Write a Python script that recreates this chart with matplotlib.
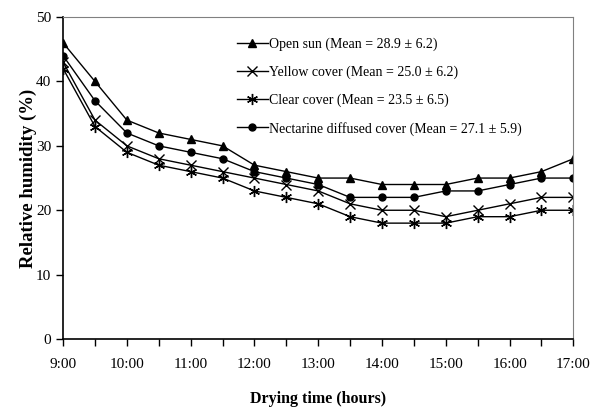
import matplotlib.pyplot as plt
import numpy as np

plt.rcParams['font.family'] = ['Liberation Serif', 'DejaVu Serif']

# half-hour readings from 9:00 to 17:00
times = np.arange(9, 17.01, 0.5)
hour_labels = ['9:00', '10:00', '11:00', '12:00', '13:00', '14:00', '15:00', '16:00', '17:00']

open_sun = [46, 40, 34, 32, 31, 30, 27, 26, 25, 25, 24, 24, 24, 25, 25, 26, 28]
yellow = [43, 34, 30, 28, 27, 26, 25, 24, 23, 21, 20, 20, 19, 20, 21, 22, 22]
clear = [42, 33, 29, 27, 26, 25, 23, 22, 21, 19, 18, 18, 18, 19, 19, 20, 20]
nectarine = [44, 37, 32, 30, 29, 28, 26, 25, 24, 22, 22, 22, 23, 23, 24, 25, 25]

fig = plt.figure(figsize=(6.01, 4.07), dpi=100)
ax = fig.add_axes([0.105, 0.167, 0.849, 0.791])

ax.plot(times, open_sun, color='black', lw=1, marker='^', ms=6,
        label='Open sun (Mean = 28.9 ± 6.2)')
ax.plot(times, yellow, color='black', lw=1, marker='x', ms=7, mew=1,
        label='Yellow cover (Mean = 25.0 ± 6.2)')
ax.plot(times, clear, color='black', lw=1, marker=(6, 2, 0), ms=8, mew=1,
        label='Clear cover (Mean = 23.5 ± 6.5)')
ax.plot(times, nectarine, color='black', lw=1, marker='o', ms=5,
        label='Nectarine diffused cover (Mean = 27.1 ± 5.9)')

ax.set_xlim(9, 17)
ax.set_ylim(0, 50)
ax.set_xticks(np.arange(9, 17.01, 1))
ax.set_xticklabels(hour_labels)
ax.set_xticks(np.arange(9.5, 17, 1), minor=True)
ax.set_yticks(np.arange(0, 51, 10))
ax.tick_params(axis='both', which='both', direction='out', length=5,
               width=1, labelsize=11, color='black')
ax.tick_params(axis='x', pad=9)

for side in ['top', 'right']:
    ax.spines[side].set_color('#808080')
for side in ['left', 'bottom']:
    ax.spines[side].set_color('black')
    ax.spines[side].set_linewidth(1.2)

ax.set_xlabel('Drying time (hours)', fontsize=11.5, fontweight='bold', labelpad=14)
ax.set_ylabel('Relative humidity (%)', fontsize=13.5, fontweight='bold', labelpad=-1)

ax.legend(loc='upper left', bbox_to_anchor=(0.341, 0.937), frameon=False,
          borderpad=0, borderaxespad=0,
          fontsize=10, handlelength=2.2, handletextpad=0.1, labelspacing=1.05)

fig.savefig('out.png', dpi=100)
